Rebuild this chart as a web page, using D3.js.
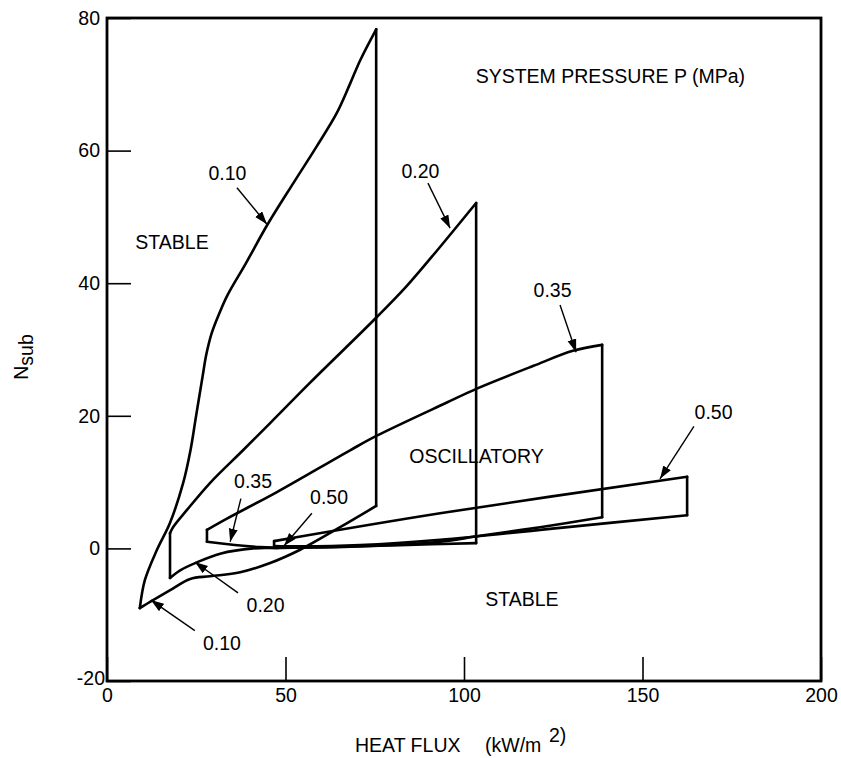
<!DOCTYPE html>
<html><head><meta charset="utf-8">
<script src="https://cdn.jsdelivr.net/npm/d3@7"></script>
<style>
body{margin:0;background:#fff}
svg{display:block}
text{font-family:"Liberation Sans",Arial,sans-serif;fill:#000}
</style>
</head><body>
<svg id="c" width="841" height="758"></svg>
<script>
// ---- data (heat flux kW/m2, N_sub) ----
const xTicks = [0, 50, 100, 150, 200];
const yTicks = [-20, 0, 20, 40, 60, 80];

const p010Upper = [[9.2,-9.0],[10.6,-4.8],[14.0,-0.2],[17.6,3.8],[21.3,9.8],[23.4,14.85],[24.9,19.8],[26.75,25.85],[27.8,29.2],[29.35,32.5],[31.5,35.5],[33.75,38.2],[38.9,43.0],[44.8,48.7],[52.2,55.1],[58.7,60.6],[64.3,65.6],[68.1,70.1],[70.9,73.6],[75.4,78.3]];
const p010Lower = [[75.4,6.4],[65.3,3.2],[54.1,-0.2],[45.7,-2.2],[37.3,-3.6],[28.9,-4.2],[23.3,-4.6],[17.7,-6.3],[12.9,-7.8],[9.2,-9.0]];

const p020Upper = [[17.65,2.3],[18.5,3.2],[22.4,5.8],[28.9,9.9],[38.1,14.8],[45.7,18.9],[56.9,25.0],[75.6,34.9],[84.0,39.6],[92.4,44.9],[103.4,52.1]];
const p020Lower = [[103.4,0.8],[82.1,0.5],[62.5,0.2],[48.5,0.05],[40.9,0.0],[31.7,-0.8],[25.2,-2.1],[20.5,-3.3],[17.65,-4.46]];

const p035Upper = [[28.0,2.8],[33.6,4.5],[47.6,8.5],[68.1,14.8],[75.6,17.0],[95.2,22.0],[103.6,24.1],[119.3,27.5],[130.5,29.8],[138.7,30.7]];
const p035Lower = [[138.7,4.7],[121.3,3.2],[104.5,1.9],[93.3,1.0],[76.5,0.4],[59.7,0.15],[42.9,0.2],[28.0,1.0]];

const p050Upper = [[46.8,1.1],[93.3,5.3],[162.5,10.8]];
const p050Lower = [[162.5,5.0],[126.9,3.1],[93.3,1.3],[70.9,0.5],[54.1,0.3],[46.8,0.36]];

const pressures = [
  {p:"0.10", upper:p010Upper, lower:p010Lower},
  {p:"0.20", upper:p020Upper, lower:p020Lower},
  {p:"0.35", upper:p035Upper, lower:p035Lower},
  {p:"0.50", upper:p050Upper, lower:p050Lower}
];

// pressure callouts: label anchor, arrow tail, arrow tip (data units)
const calloutLabels = ["0.10","0.20","0.35","0.50","0.35","0.50","0.20","0.10"];
const calloutText   = [[33.75,56.6],[87.8,56.9],[124.8,39.0],[169.9,20.6],[40.9,10.2],[62.2,7.75],[44.4,-8.5],[32.2,-14.2]];
const calloutTail   = [[36.4,54.4],[89.9,55.1],[126.9,36.7],[164.4,18.4],[37.5,7.5],[57.4,5.3],[36.7,-6.7],[24.6,-12.4]];
const calloutTip    = [[44.8,48.9],[96.1,48.3],[131.4,29.6],[154.9,10.5],[34.5,1.0],[49.6,0.4],[24.6,-2.05],[12.3,-7.8]];

const regionLabels = ["SYSTEM PRESSURE P (MPa)","STABLE","OSCILLATORY","STABLE"];
const regionPos    = [[141.0,71.2],[18.2,46.2],[103.5,13.9],[116.2,-7.7]];

// ---- drawing ----
const svg = d3.select("#c");
const mLeft = 107, mRight = 821, mTop = 18, mBottom = 681;
const x = d3.scaleLinear().domain([0,200]).range([mLeft,mRight]);
const y = d3.scaleLinear().domain([-20,80]).range([mBottom,mTop]);
const FS = 19.5;

// axes with inward ticks
const xAxis = d3.axisBottom(x).tickValues(xTicks).tickSize(-24).tickPadding(7).tickFormat(d=>String(d));
const gx = svg.append("g").attr("transform",`translate(0,${mBottom})`).call(xAxis);
const yAxis = d3.axisLeft(y).tickValues(yTicks).tickSize(-24).tickPadding(7).tickFormat(d=>String(d));
const gy = svg.append("g").attr("transform",`translate(${mLeft},0)`).call(yAxis);
[gx,gy].forEach(g=>{
  g.select(".domain").remove();
  g.selectAll(".tick line").attr("stroke","#000").attr("stroke-width",1.6);
  g.selectAll(".tick text").attr("font-size",FS).attr("font-family",'"Liberation Sans",Arial,sans-serif').attr("fill","#000");
});
gy.selectAll(".tick").filter(d=>d===-20).select("text").attr("x",-2).attr("dy","0.2em");

// frame
svg.append("rect").attr("x",x(0)).attr("y",y(80)).attr("width",x(200)-x(0)).attr("height",y(-20)-y(80))
  .attr("fill","none").attr("stroke","#000").attr("stroke-width",2.8);

// boundary curves
const curve = d3.line().x(d=>x(d[0])).y(d=>y(d[1])).curve(d3.curveCatmullRom.alpha(0.5));
const straight = d3.line().x(d=>x(d[0])).y(d=>y(d[1]));
const gc = svg.append("g").attr("fill","none").attr("stroke","#000").attr("stroke-width",2.6)
  .attr("stroke-linejoin","round").attr("stroke-linecap","round");
pressures.forEach(s=>{
  gc.append("path").attr("d",curve(s.upper));
  gc.append("path").attr("d",curve(s.lower));
  gc.append("path").attr("d",straight([s.upper[s.upper.length-1], s.lower[0]]));
  gc.append("path").attr("d",straight([s.lower[s.lower.length-1], s.upper[0]]));
});

// arrow marker
svg.append("defs").append("marker").attr("id","ah")
  .attr("markerUnits","userSpaceOnUse").attr("markerWidth",14).attr("markerHeight",10)
  .attr("refX",13).attr("refY",4.5).attr("orient","auto")
  .append("path").attr("d","M0,0 L13,4.5 L0,9 Z").attr("fill","#000");

const ga = svg.append("g");
calloutLabels.forEach((lab,i)=>{
  ga.append("line")
    .attr("x1",x(calloutTail[i][0])).attr("y1",y(calloutTail[i][1]))
    .attr("x2",x(calloutTip[i][0])).attr("y2",y(calloutTip[i][1]))
    .attr("stroke","#000").attr("stroke-width",1.4).attr("marker-end","url(#ah)");
  ga.append("text").attr("x",x(calloutText[i][0])).attr("y",y(calloutText[i][1]))
    .attr("text-anchor","middle").attr("dy","0.36em").attr("font-size",FS).text(lab);
});

regionLabels.forEach((lab,i)=>{
  svg.append("text").attr("x",x(regionPos[i][0])).attr("y",y(regionPos[i][1]))
    .attr("text-anchor","middle").attr("dy","0.36em").attr("font-size",FS).text(lab);
});

// x axis title
const xt = svg.append("text").attr("x",355).attr("y",752).attr("font-size",FS);
xt.append("tspan").text("HEAT FLUX");
xt.append("tspan").attr("x",485).text("(kW/m");
xt.append("tspan").attr("x",549).attr("dy",-10).text("2)");

// y axis title
const yt = svg.append("text").attr("transform","translate(28,357) rotate(-90)")
  .attr("text-anchor","middle").attr("font-size",FS);
yt.append("tspan").text("N");
yt.append("tspan").attr("dy",5).text("sub");
</script>
</body></html>
